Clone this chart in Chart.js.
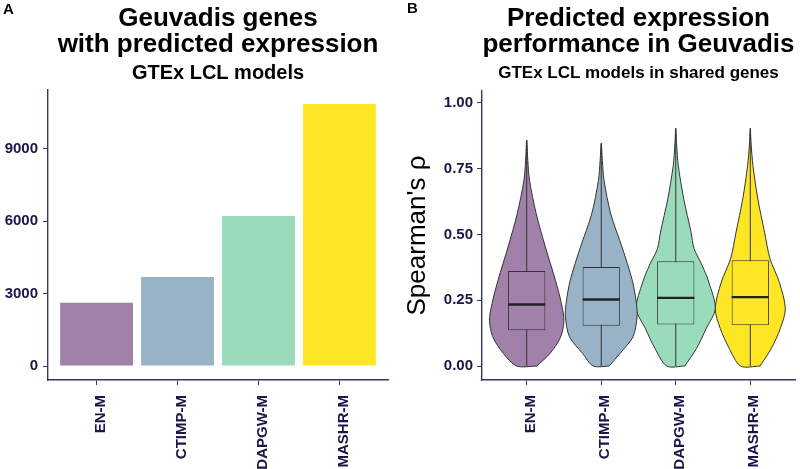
<!DOCTYPE html>
<html><head><meta charset="utf-8">
<script src="https://cdn.jsdelivr.net/npm/chart.js@4.4.0/dist/chart.umd.min.js"></script>
<style>
html,body{margin:0;padding:0;background:#fff;width:800px;height:469px;overflow:hidden;}
.panel{position:absolute;top:0;width:400px;height:469px;}
#pa{left:0}#pb{left:400px}
.tag{position:absolute;font:bold 15px "Liberation Sans",Arial,sans-serif;color:#000;line-height:15px;}
</style></head><body>
<div class="panel" id="pa"><canvas id="cA" width="400" height="469"></canvas></div>
<div class="panel" id="pb"><canvas id="cB" width="400" height="469"></canvas></div>
<div class="tag" style="left:3px;top:1px">A</div>
<div class="tag" style="left:407px;top:0px">B</div>
<script>
// ---------- data ----------
const models = ['EN-M', 'CTIMP-M', 'DAPGW-M', 'MASHR-M'];
const geneCounts = [2623, 3688, 6216, 10858];
const countTicks = [0, 3000, 6000, 9000];
const rhoTicks = [0, 0.25, 0.5, 0.75, 1.0];

const boxQ1 = [0.136, 0.153, 0.158, 0.155];
const boxMedian = [0.234, 0.253, 0.259, 0.262];
const boxQ3 = [0.361, 0.376, 0.398, 0.402];
const rhoMin = [0, 0, 0, 0];
const rhoMax = [0.859, 0.846, 0.903, 0.903];

// violin outlines: rho levels and density half-widths (category units)
const enRho = [0, 0.048, 0.111, 0.174, 0.237, 0.326, 0.452, 0.578, 0.705, 0.78, 0.859];
const enDens = [0.134, 0.313, 0.456, 0.499, 0.466, 0.385, 0.251, 0.128, 0.038, 0.015, 0];
const ctimpRho = [0, 0.048, 0.111, 0.187, 0.237, 0.326, 0.452, 0.578, 0.705, 0.78, 0.846];
const ctimpDens = [0.107, 0.251, 0.426, 0.481, 0.472, 0.416, 0.279, 0.128, 0.038, 0.015, 0];
const dapgwRho = [0, 0.067, 0.143, 0.218, 0.319, 0.383, 0.446, 0.509, 0.635, 0.761, 0.84, 0.903];
const dapgwDens = [0.121, 0.279, 0.409, 0.530, 0.443, 0.353, 0.246, 0.205, 0.107, 0.034, 0.012, 0];
const mashrRho = [0, 0.067, 0.143, 0.218, 0.319, 0.408, 0.509, 0.635, 0.761, 0.84, 0.903];
const mashrDens = [0.130, 0.282, 0.403, 0.470, 0.389, 0.264, 0.191, 0.101, 0.036, 0.012, 0];

// ---------- styles ----------
const FONT = '"Liberation Sans", Arial, sans-serif';
const fills = ['#A180A9', '#98B3C6', '#9ADBBC', '#FDE725'];
const TICK_COLOR = '#1d1548';
const AXIS_COLOR = '#3a3560';
const OUTLINE = '#333333';
Chart.defaults.font.family = FONT;

function axisCommon(extra) {
  return Object.assign({
    grid: {display: true, drawOnChartArea: false, drawTicks: true, tickLength: 5, color: AXIS_COLOR, lineWidth: 1, offset: false},
    border: {display: true, color: AXIS_COLOR, width: 1.4}
  }, extra);
}
function xAxis() {
  return axisCommon({
    type: 'linear', min: 0.4, max: 4.6, offset: false,
    afterBuildTicks: s => { s.ticks = models.map((m, i) => ({value: i + 1})); },
    afterFit: s => { s.height = 89; },
    ticks: {autoSkip: false, minRotation: 90, maxRotation: 90, padding: 10, labelOffset: 4, color: TICK_COLOR,
      font: {family: FONT, size: 15, weight: 'bold'},
      callback: (v, i) => models[i]}
  });
}
const basePlugins = {legend: {display: false}, tooltip: {enabled: false}};

// ---------- panel A ----------
new Chart(document.getElementById('cA'), {
  type: 'bar',
  data: {datasets: [{
    data: models.map((m, i) => ({x: i + 1, y: geneCounts[i]})),
    backgroundColor: fills, borderWidth: 0, barPercentage: 0.9, categoryPercentage: 1
  }]},
  options: {
    responsive: false, animation: false, events: [],
    layout: {padding: {left: 0, right: 12, top: 0, bottom: 0}},
    plugins: Object.assign({}, basePlugins, {
      title: {display: true, text: ['Geuvadis genes', 'with predicted expression'], fullSize: false, color: '#000',
        font: {family: FONT, size: 26, weight: 'bold', lineHeight: 1.0}, padding: {top: 6, bottom: 4}},
      subtitle: {display: true, text: 'GTEx LCL models', fullSize: false, color: '#000',
        font: {family: FONT, size: 20, weight: 'bold', lineHeight: 1.0}, padding: {top: 1, bottom: 7}}
    }),
    scales: {
      x: xAxis(),
      y: axisCommon({
        type: 'linear', min: -580, max: 11437,
        afterBuildTicks: s => { s.ticks = countTicks.map(v => ({value: v})); },
        afterFit: s => { s.width = 48; },
        ticks: {padding: 5, color: TICK_COLOR, font: {family: FONT, size: 15, weight: 'bold'}, callback: v => String(v)}
      })
    }
  }
});

// ---------- panel B ----------
function violinPoints(c, rho, dens) {
  const right = rho.map((r, i) => ({x: c + dens[i], y: r}));
  const left = rho.map((r, i) => ({x: c - dens[i], y: r})).reverse().slice(1);
  return right.concat(left, [right[0]]);
}
const violinRhos = [enRho, ctimpRho, dapgwRho, mashrRho];
const violinDens = [enDens, ctimpDens, dapgwDens, mashrDens];
const BOX_HALF = 0.25;

const dsB = [];
models.forEach((m, i) => {
  const c = i + 1;
  dsB.push({type: 'line', order: 3, data: violinPoints(c, violinRhos[i], violinDens[i]),
    borderColor: OUTLINE, borderWidth: 1, backgroundColor: fills[i], fill: 'shape',
    tension: 0.3, pointRadius: 0});
  dsB.push({type: 'line', order: 2, data: [{x: c, y: rhoMin[i]}, {x: c, y: rhoMax[i]}],
    borderColor: OUTLINE, borderWidth: 1, pointRadius: 0, fill: false});
  dsB.push({type: 'line', order: 0, data: [{x: c - BOX_HALF, y: boxMedian[i]}, {x: c + BOX_HALF, y: boxMedian[i]}],
    borderColor: '#222222', borderWidth: 2.4, pointRadius: 0, fill: false});
});
dsB.push({type: 'bar', order: 1,
  data: models.map((m, i) => ({x: i + 1, y: [boxQ1[i], boxQ3[i]]})),
  backgroundColor: fills, borderColor: OUTLINE, borderWidth: 1, borderSkipped: false,
  barPercentage: 0.5, categoryPercentage: 1});

new Chart(document.getElementById('cB'), {
  type: 'line',
  data: {datasets: dsB},
  options: {
    responsive: false, animation: false, events: [],
    layout: {padding: {left: 0, right: 5, top: 0, bottom: 0}},
    plugins: Object.assign({}, basePlugins, {
      title: {display: true, text: ['Predicted expression', 'performance in Geuvadis'], fullSize: false, color: '#000',
        font: {family: FONT, size: 26, weight: 'bold', lineHeight: 1.0}, padding: {top: 6, bottom: 5}},
      subtitle: {display: true, text: 'GTEx LCL models in shared genes', fullSize: false, color: '#000',
        font: {family: FONT, size: 17, weight: 'bold', lineHeight: 1.0}, padding: {top: 2, bottom: 9}}
    }),
    scales: {
      x: xAxis(),
      y: axisCommon({
        type: 'linear', min: -0.053, max: 1.045,
        afterBuildTicks: s => { s.ticks = rhoTicks.map(v => ({value: v})); },
        afterFit: s => { s.width = 82; },
        title: {display: true, text: "Spearman's ρ", color: '#000', font: {family: FONT, size: 26, weight: 'normal', lineHeight: 1.0}, padding: {top: 5, bottom: 0}},
        ticks: {padding: 4, color: TICK_COLOR, font: {family: FONT, size: 15, weight: 'bold'}, callback: v => v.toFixed(2)}
      })
    }
  }
});
</script>
</body></html>
